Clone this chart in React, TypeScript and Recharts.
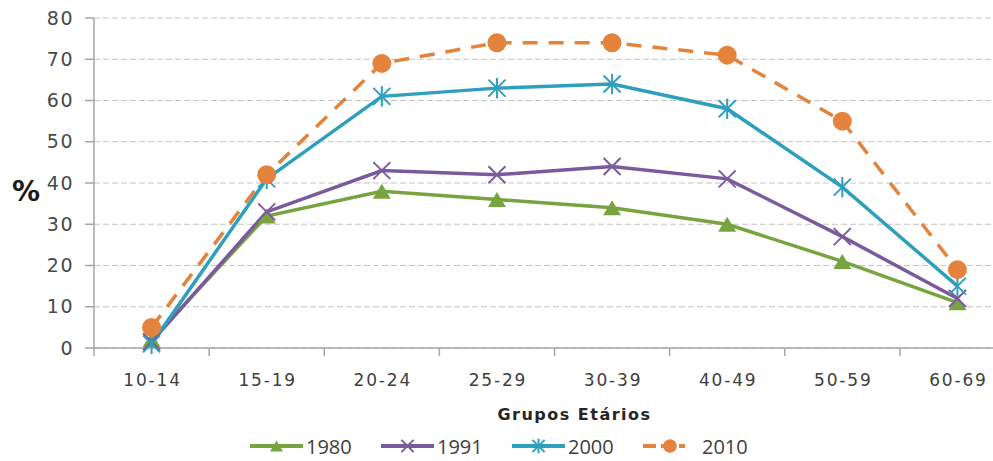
import {
  CartesianGrid,
  Legend,
  Line,
  LineChart,
  XAxis,
  YAxis,
} from "recharts";

const grupos = ["10-14", "15-19", "20-24", "25-29", "30-39", "40-49", "50-59", "60-69"];
const serie1980 = [2, 32, 38, 36, 34, 30, 21, 11];
const serie1991 = [1.5, 33, 43, 42, 44, 41, 27, 12];
const serie2000 = [1, 41, 61, 63, 64, 58, 39, 15];
const serie2010 = [5, 42, 69, 74, 74, 71, 55, 19];
const yTicks = [0, 10, 20, 30, 40, 50, 60, 70, 80];

const COLORS = {
  y1980: "#78a440",
  y1991: "#7a5a9c",
  y2000: "#2e9fbc",
  y2010: "#e4843c",
};

const TEXT = "#404040";
const AXIS = "#a6a6a6";
const AXIS_FONT = "'DejaVu Sans', sans-serif";

const CHART_W = 1023;
const CHART_H = 461;
const MARGIN = { top: 18, right: 8, left: 0, bottom: 0 };
const Y_W = 94;
const X_H = 83;
const HALF_BAND = (CHART_W - MARGIN.left - MARGIN.right - Y_W) / grupos.length / 2;

const data = grupos.map((g, i) => ({
  grupo: g,
  y1980: serie1980[i],
  y1991: serie1991[i],
  y2000: serie2000[i],
  y2010: serie2010[i],
}));

type DotProps = { cx?: number; cy?: number; index?: number; size?: number };

function Triangle({ cx = 0, cy = 0, size = 1 }: DotProps) {
  const w = 9 * size;
  const h = 7.5 * size;
  return (
    <polygon
      points={`${cx},${cy - h} ${cx + w},${cy + h} ${cx - w},${cy + h}`}
      fill={COLORS.y1980}
    />
  );
}

function Cross({ cx = 0, cy = 0, size = 1 }: DotProps) {
  const r = 8.5 * size;
  return (
    <g stroke={COLORS.y1991} strokeWidth={2}>
      <line x1={cx - r} y1={cy - r} x2={cx + r} y2={cy + r} />
      <line x1={cx - r} y1={cy + r} x2={cx + r} y2={cy - r} />
    </g>
  );
}

function Star({ cx = 0, cy = 0, size = 1 }: DotProps) {
  const r = 8.5 * size;
  return (
    <g stroke={COLORS.y2000} strokeWidth={2}>
      <line x1={cx - r} y1={cy - r} x2={cx + r} y2={cy + r} />
      <line x1={cx - r} y1={cy + r} x2={cx + r} y2={cy - r} />
      <line x1={cx} y1={cy - r * 1.2} x2={cx} y2={cy + r * 1.2} />
    </g>
  );
}

function Circle({ cx = 0, cy = 0, size = 1 }: DotProps) {
  return <circle cx={cx} cy={cy} r={9.5 * size} fill={COLORS.y2010} />;
}

// category labels sit mid-band, tick marks on the band boundaries
function XTick({ x = 0, y = 0, payload, index = 0 }: any) {
  return (
    <g>
      <line x1={x - HALF_BAND} x2={x - HALF_BAND} y1={y} y2={y + 8} stroke={AXIS} strokeWidth={1.5} />
      {index === grupos.length - 1 && (
        <line x1={x + HALF_BAND} x2={x + HALF_BAND} y1={y} y2={y + 8} stroke={AXIS} strokeWidth={1.5} />
      )}
      <text
        x={x + 1}
        y={y + 32}
        textAnchor="middle"
        dominantBaseline="central"
        fill={TEXT}
        fontFamily={AXIS_FONT}
        fontSize={17}
        letterSpacing={1.8}
      >
        {payload.value}
      </text>
    </g>
  );
}

const legendItems = [
  { label: "1980", color: COLORS.y1980, Marker: Triangle, dashed: false },
  { label: "1991", color: COLORS.y1991, Marker: Cross, dashed: false },
  { label: "2000", color: COLORS.y2000, Marker: Star, dashed: false },
  { label: "2010", color: COLORS.y2010, Marker: Circle, dashed: true },
];

function LegendContent() {
  return (
    <div
      style={{
        display: "flex",
        alignItems: "center",
        height: 30,
        fontFamily: "'Open Sans', sans-serif",
        fontSize: 20,
        color: TEXT,
      }}
    >
      {legendItems.map(({ label, color, Marker, dashed }) => (
        <div key={label} style={{ display: "flex", alignItems: "center", width: 131 }}>
          <svg width={dashed ? 57 : 54} height={24}>
            <line
              x1={0}
              x2={dashed ? 42 : 53}
              y1={12}
              y2={12}
              stroke={color}
              strokeWidth={4}
              strokeDasharray={dashed ? "13 5" : undefined}
            />
            <Marker cx={dashed ? 27 : 26.5} cy={12} size={0.72} />
          </svg>
          <span style={{ marginLeft: 2 }}>{label}</span>
        </div>
      ))}
    </div>
  );
}

export default function App() {
  return (
    <div
      style={{
        position: "absolute",
        left: 0,
        top: 0,
        width: 993,
        height: 461,
        overflow: "hidden",
        background: "#fff",
      }}
    >
      <LineChart width={CHART_W} height={CHART_H} data={data} margin={MARGIN}>
        <CartesianGrid vertical={false} stroke="#c4c4c4" strokeDasharray="6 3" />
        <XAxis
          dataKey="grupo"
          height={X_H}
          padding={{ left: HALF_BAND, right: HALF_BAND }}
          axisLine={{ stroke: AXIS, strokeWidth: 1.5 }}
          tickLine={false}
          tickSize={0}
          tickMargin={0}
          tick={<XTick />}
          interval={0}
          label={{
            content: ({ viewBox }: any) => (
              <text
                x={viewBox.x + viewBox.width / 2 + 20}
                y={viewBox.y + 66}
                textAnchor="middle"
                dominantBaseline="central"
                fill="#262626"
                fontFamily={AXIS_FONT}
                fontWeight="bold"
                fontSize={16}
                letterSpacing={1.5}
              >
                Grupos Etários
              </text>
            ),
          }}
        />
        <YAxis
          width={Y_W}
          domain={[0, 80]}
          ticks={yTicks}
          interval={0}
          axisLine={{ stroke: AXIS, strokeWidth: 1.5 }}
          tickLine={{ stroke: AXIS, strokeWidth: 1.5 }}
          tickSize={9}
          tickMargin={11}
          tick={{ fill: "#4a4a4a", fontFamily: AXIS_FONT, fontSize: 19, letterSpacing: 1.5 }}
          label={{
            content: ({ viewBox }: any) => (
              <text
                x={viewBox.x + 12}
                y={viewBox.y + viewBox.height / 2 + 8}
                dominantBaseline="central"
                fill="#1a1a1a"
                fontFamily={AXIS_FONT}
                fontWeight="bold"
                fontSize={28}
              >
                %
              </text>
            ),
          }}
        />
        <Legend
          verticalAlign="bottom"
          height={30}
          content={<LegendContent />}
          wrapperStyle={{ left: 250, width: 700, height: 30 }}
        />
        <Line
          dataKey="y1980"
          stroke={COLORS.y1980}
          strokeWidth={3.5}
          dot={(p: DotProps) => <Triangle key={p.index} cx={p.cx} cy={p.cy} />}
          activeDot={false}
          isAnimationActive={false}
        />
        <Line
          dataKey="y1991"
          stroke={COLORS.y1991}
          strokeWidth={3.5}
          dot={(p: DotProps) => <Cross key={p.index} cx={p.cx} cy={p.cy} />}
          activeDot={false}
          isAnimationActive={false}
        />
        <Line
          dataKey="y2000"
          stroke={COLORS.y2000}
          strokeWidth={3.5}
          dot={(p: DotProps) => <Star key={p.index} cx={p.cx} cy={p.cy} />}
          activeDot={false}
          isAnimationActive={false}
        />
        <Line
          dataKey="y2010"
          stroke={COLORS.y2010}
          strokeWidth={3.5}
          strokeDasharray="15 11"
          dot={(p: DotProps) => <Circle key={p.index} cx={p.cx} cy={p.cy} />}
          activeDot={false}
          isAnimationActive={false}
        />
      </LineChart>
    </div>
  );
}
